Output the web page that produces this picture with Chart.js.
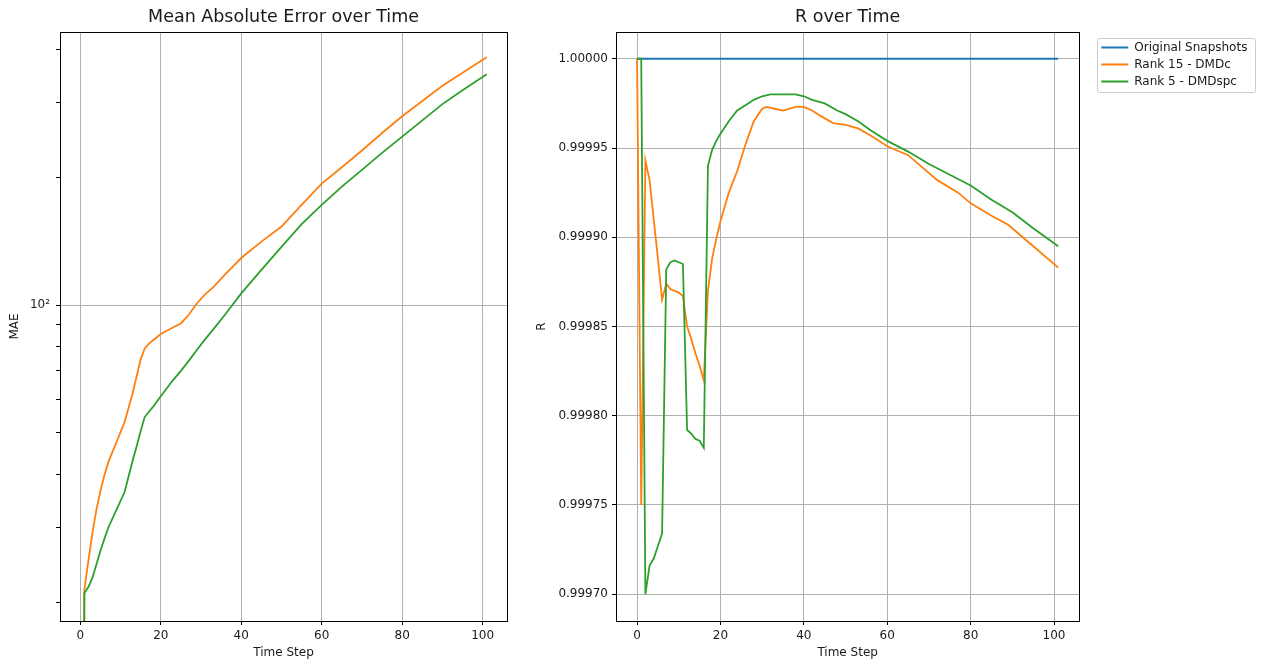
<!DOCTYPE html>
<html>
<head>
<meta charset="utf-8">
<script src="https://cdn.jsdelivr.net/npm/chart.js@4.4.1/dist/chart.umd.min.js"></script>
<style>
  body { margin: 0; background: #fff; }
  #wrap { position: relative; width: 1264px; height: 664px; overflow: hidden; background: #fff; }
  canvas { position: absolute; top: 0; }
  #maeChart { left: 0; }
  #rChart { left: 530px; }
</style>
</head>
<body>
<div id="wrap">
  <canvas id="maeChart" width="540" height="664"></canvas>
  <canvas id="rChart" width="734" height="664"></canvas>
</div>
<script>
// ---- data: Mean Absolute Error (log axis) ----
const maeSteps   = [0, 1, 2, 3, 4, 5, 6, 7, 9, 11, 13, 14, 15, 16, 17, 18, 20, 23, 25, 27, 29, 31, 33, 36, 40, 45, 50, 55, 60, 65, 70, 75, 80, 85, 90, 95, 101];
// t = 0 error is zero, shown as a tiny value so the log axis can place it (off the bottom)
const maeDmdc    = [0.001, 21.4, 25, 29, 33, 36.5, 39.8, 42.8, 47.6, 53, 62, 68, 74.5, 79, 81, 82.5, 85.5, 88.5, 90.5, 95, 101, 106, 110, 118, 129, 141, 153, 172, 193, 211, 231, 254, 278, 302, 328, 352, 383];
const maeDmdspc  = [0.001, 21, 21.7, 22.8, 24.5, 26.4, 28.2, 30, 33, 36.3, 43, 46.5, 50.5, 54.5, 56, 57.5, 61, 66.5, 70, 74, 78.5, 83, 87.5, 95, 106.5, 121, 137, 155, 172, 190, 208, 228, 249, 272, 297, 320, 349];
const maeTicks   = [20, 30, 40, 50, 60, 70, 80, 90, 100, 200, 300, 400];
const maeMajor   = [100];

// ---- data: R ----
const snapSteps    = [0, 101];
const snapR        = [1.0, 1.0];
const rStepsDmdc   = [0, 1, 2, 3, 4, 5, 6, 7, 8, 9, 10, 11, 12, 13, 14, 15, 16, 17, 18, 19, 20, 22, 24, 26, 28, 30, 31, 33, 35, 38, 40, 42, 44, 47, 50, 53, 56, 60, 65, 68, 72, 77, 80, 85, 89, 92, 96, 101];
const rDmdc        = [1.0, 0.99975, 0.999943, 0.999932, 0.999910, 0.999888, 0.999865, 0.999874, 0.999871, 0.999870, 0.999869, 0.999867, 0.999850, 0.999843, 0.999835, 0.999828, 0.999820, 0.999870, 0.999888, 0.999899, 0.999909, 0.999925, 0.999937, 0.999952, 0.999965, 0.999972, 0.999973, 0.999972, 0.999971, 0.999973, 0.999973, 0.999971, 0.999968, 0.999964, 0.999963, 0.999961, 0.999957, 0.999951, 0.999946, 0.999940, 0.999932, 0.999925, 0.999919, 0.999912, 0.999907, 0.999901, 0.999893, 0.999883];
const rStepsDmdspc = [0, 1, 2, 3, 4, 5, 6, 7, 8, 9, 10, 11, 12, 13, 14, 15, 16, 17, 18, 19, 20, 22, 24, 26, 28, 30, 32, 35, 38, 40, 42, 45, 48, 50, 53, 56, 60, 65, 70, 75, 80, 85, 90, 95, 101];
const rDmdspc      = [1.0, 1.0, 0.99970, 0.999716, 0.999720, 0.999727, 0.999734, 0.999882, 0.999886, 0.999887, 0.999886, 0.999885, 0.999792, 0.999790, 0.999787, 0.999786, 0.999782, 0.999940, 0.999949, 0.999954, 0.999958, 0.999965, 0.999971, 0.999974, 0.999977, 0.999979, 0.999980, 0.999980, 0.999980, 0.999979, 0.999977, 0.999975, 0.999971, 0.999969, 0.999965, 0.999960, 0.999954, 0.999948, 0.999941, 0.999935, 0.999929, 0.999921, 0.999914, 0.999905, 0.999895];
const rTicks       = [0.99970, 0.99975, 0.99980, 0.99985, 0.99990, 0.99995, 1.00000];

const timeTicks  = [0, 20, 40, 60, 80, 100];
const seriesNames  = ['Original Snapshots', 'Rank 15 - DMDc', 'Rank 5 - DMDspc'];
const seriesColors = ['#1f77b4', '#ff7f0e', '#2ca02c'];

Chart.defaults.font.family = "'DejaVu Sans', sans-serif";
Chart.defaults.font.size = 12;
Chart.defaults.color = '#1a1a1a';

const toPoints = (xs, ys) => xs.map((x, i) => ({ x: x, y: ys[i] }));

function lineSet(idx, xs, ys, order) {
    return {
        label: seriesNames[idx],
        data: toPoints(xs, ys),
        borderColor: seriesColors[idx],
        backgroundColor: seriesColors[idx],
        borderWidth: 1.8,
        pointRadius: 0,
        tension: 0,
        order: order,
    };
}

// black box round the plot area, like matplotlib spines
const framePlugin = {
    id: 'frame',
    afterDraw(chart) {
        const { ctx, chartArea: a } = chart;
        ctx.save();
        ctx.strokeStyle = '#000';
        ctx.lineWidth = 1;
        ctx.strokeRect(Math.round(a.left) + 0.5, Math.round(a.top) + 0.5,
            Math.round(a.right) - Math.round(a.left), Math.round(a.bottom) - Math.round(a.top));
        ctx.restore();
    }
};

// move the legend away from the plot and draw its frame
const legendBoxPlugin = {
    id: 'legendBox',
    afterLayout(chart) {
        const lg = chart.legend;
        lg.left += 17; lg.right += 17;
        lg.top += 4.5; lg.bottom += 4.5;
    },
    afterDraw(chart) {
        const hb = chart.legend.legendHitBoxes;
        if (!hb || !hb.length) return;
        const x0 = Math.min(...hb.map(h => h.left)) - 4;
        const x1 = Math.max(...hb.map(h => h.left + h.width)) + 8;
        const y0 = hb[0].top - 3.6;
        const y1 = hb[hb.length - 1].top + hb[hb.length - 1].height + 4.7;
        const ctx = chart.ctx;
        ctx.save();
        ctx.strokeStyle = '#cccccc';
        ctx.lineWidth = 1;
        ctx.beginPath();
        ctx.roundRect(Math.round(x0) + 0.5, Math.round(y0) + 0.5, Math.round(x1 - x0), Math.round(y1 - y0), 2);
        ctx.stroke();
        ctx.restore();
    }
};

function timeAxis() {
    return {
        type: 'linear',
        min: -5.05,
        max: 106.05,
        bounds: 'data',
        afterBuildTicks: (scale) => { scale.ticks = timeTicks.map(v => ({ value: v })); },
        afterFit: (scale) => { scale.height = 43; },
        grid: { color: '#b0b0b0', lineWidth: 1, tickColor: '#000', tickLength: 4, drawTicks: true },
        border: { display: false },
        ticks: { padding: 4, maxRotation: 0, autoSkip: false, color: '#1a1a1a' },
        title: { display: true, text: 'Time Step', padding: { top: 0, bottom: 3.8 }, color: '#1a1a1a' },
    };
}

function titleOpts(text) {
    return {
        display: true,
        text: text,
        fullSize: false,
        color: '#1a1a1a',
        font: { size: 17.5, weight: 'normal' },
        padding: { top: 6.5, bottom: 4.5 },
    };
}

// ---- left: MAE over time ----
new Chart(document.getElementById('maeChart'), {
    type: 'line',
    data: {
        datasets: [
            lineSet(1, maeSteps, maeDmdc, 2),
            lineSet(2, maeSteps, maeDmdspc, 1),
        ],
    },
    options: {
        responsive: false,
        animation: false,
        devicePixelRatio: 1,
        layout: { padding: { left: 0, right: 33, top: 0, bottom: 0 } },
        plugins: {
            title: titleOpts('Mean Absolute Error over Time'),
            legend: { display: false },
            tooltip: { enabled: false },
        },
        scales: {
            x: timeAxis(),
            y: {
                type: 'logarithmic',
                min: 18.05,
                max: 439,
                bounds: 'data',
                afterBuildTicks: (scale) => { scale.ticks = maeTicks.map(v => ({ value: v })); },
                afterFit: (scale) => { scale.width = 60; },
                grid: {
                    color: (c) => (c.tick && maeMajor.includes(c.tick.value)) ? '#b0b0b0' : 'rgba(0,0,0,0)',
                    tickColor: '#000',
                    tickLength: 4,
                },
                border: { display: false },
                ticks: {
                    padding: 6,
                    autoSkip: false,
                    color: '#1a1a1a',
                    callback: (v) => v === 100 ? '10\u00b2' : '',
                },
                title: { display: true, text: 'MAE', padding: { top: 7.5, bottom: 0 }, color: '#1a1a1a' },
            },
        },
    },
    plugins: [framePlugin],
});

// ---- right: R over time ----
new Chart(document.getElementById('rChart'), {
    type: 'line',
    data: {
        datasets: [
            lineSet(0, snapSteps, snapR, 3),
            lineSet(1, rStepsDmdc, rDmdc, 2),
            lineSet(2, rStepsDmdspc, rDmdspc, 1),
        ],
    },
    options: {
        responsive: false,
        animation: false,
        devicePixelRatio: 1,
        layout: { padding: { left: 0, right: 23.6, top: 0, bottom: 0 } },
        plugins: {
            title: titleOpts('R over Time'),
            legend: {
                display: true,
                position: 'right',
                align: 'start',
                fullSize: false,
                labels: {
                    usePointStyle: true,
                    pointStyle: 'line',
                    pointStyleWidth: 27,
                    padding: 5,
                    color: '#1a1a1a',
                    font: { size: 12 },
                    sort: (a, b) => a.datasetIndex - b.datasetIndex,
                },
            },
            tooltip: { enabled: false },
        },
        scales: {
            x: timeAxis(),
            y: {
                type: 'linear',
                min: 0.999685,
                max: 1.000015,
                bounds: 'data',
                afterBuildTicks: (scale) => { scale.ticks = rTicks.map(v => ({ value: v })); },
                afterFit: (scale) => { scale.width = 86; },
                grid: { color: '#b0b0b0', tickColor: '#000', tickLength: 4 },
                border: { display: false },
                ticks: {
                    padding: 4,
                    autoSkip: false,
                    color: '#1a1a1a',
                    callback: (v) => Number(v).toFixed(5),
                },
                title: { display: true, text: 'R', padding: { top: 4.8, bottom: 0 }, color: '#1a1a1a' },
            },
        },
    },
    plugins: [framePlugin, legendBoxPlugin],
});
</script>
</body>
</html>
